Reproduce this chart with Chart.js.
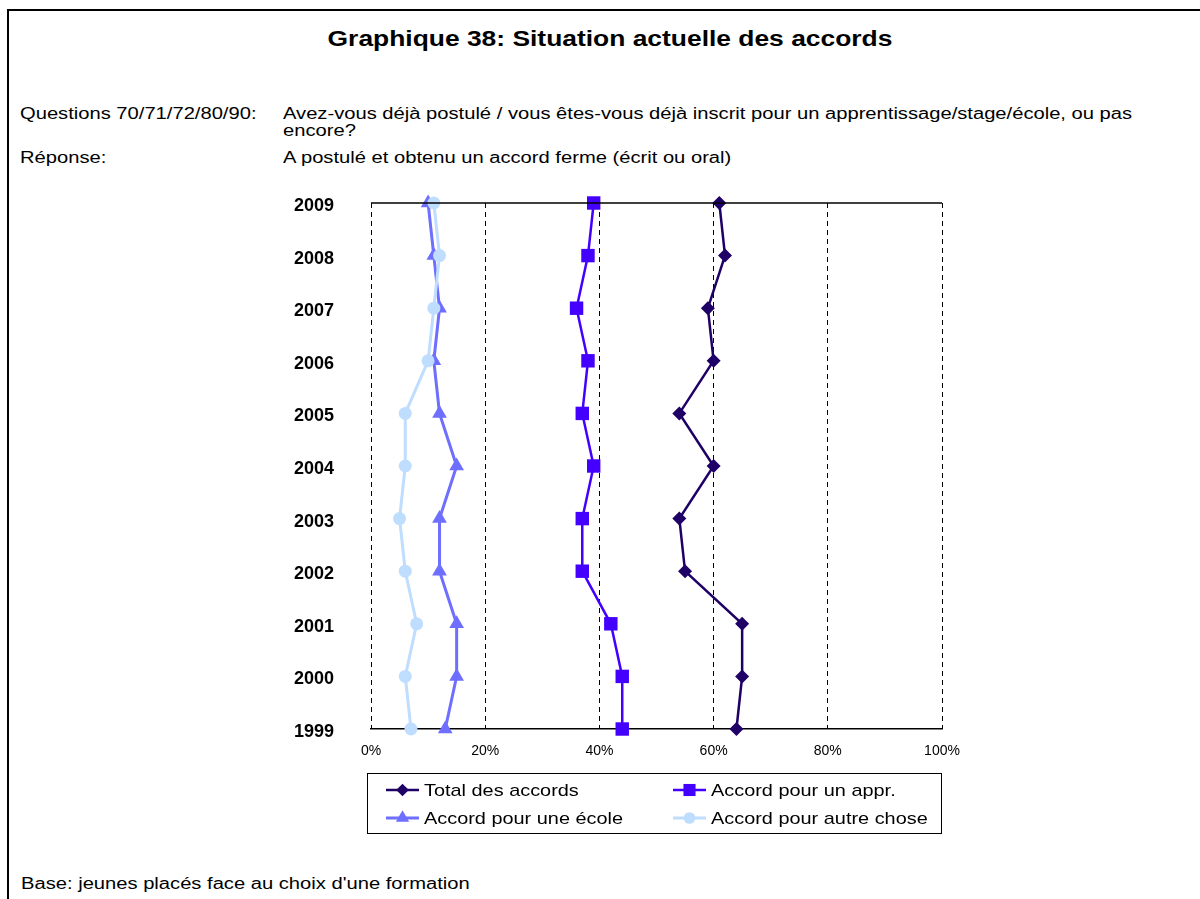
<!DOCTYPE html>
<html lang="fr">
<head>
<meta charset="utf-8">
<title>Graphique 38</title>
<script src="https://cdn.jsdelivr.net/npm/chart.js@4/dist/chart.umd.min.js"></script>
<style>
    html, body { margin: 0; padding: 0; background: #fff; }
    body { width: 1200px; height: 899px; position: relative; overflow: hidden; font-family: Arial, "Liberation Sans", sans-serif; color: #000; }
    #frame { position: absolute; left: 7px; top: 9px; width: 1300px; height: 1000px; border-left: 2px solid #000; border-top: 2px solid #000; }
    #title { position: absolute; left: 0; width: 1220px; top: 26px; text-align: center; font-weight: bold; font-size: 22px; transform: scaleX(1.2); transform-origin: 610px 0; }
    .txt { position: absolute; font-size: 16px; line-height: 17px; transform: scaleX(1.26); transform-origin: 0 0; white-space: nowrap; }
    .wrap { white-space: normal; }
    #chartCanvas { position: absolute; left: 0; top: 0; }
</style>
</head>
<body>
<div id="frame"></div>
<div id="title">Graphique 38: Situation actuelle des accords</div>
<div class="txt" style="left:20px; top:105px;">Questions 70/71/72/80/90:</div>
<div class="txt wrap" style="left:283px; top:105px; width:700px;">Avez-vous déjà postulé / vous êtes-vous déjà inscrit pour un apprentissage/stage/école, ou pas encore?</div>
<div class="txt" style="left:20px; top:149px;">Réponse:</div>
<div class="txt" style="left:283px; top:149px;">A postulé et obtenu un accord ferme (écrit ou oral)</div>
<div class="txt" style="left:21px; top:875px;">Base: jeunes placés face au choix d'une formation</div>
<canvas id="chartCanvas" width="1200" height="899"></canvas>

<script>
// Data (years from top to bottom, values in %)
const years = ['2009', '2008', '2007', '2006', '2005', '2004', '2003', '2002', '2001', '2000', '1999'];
const totalAccords = [61, 62, 59, 60, 54, 60, 54, 55, 65, 65, 64];
const accordAppr = [39, 38, 36, 38, 37, 39, 37, 37, 42, 44, 44];
const accordEcole = [10, 11, 12, 11, 12, 15, 12, 12, 15, 15, 13];
const accordAutre = [11, 12, 11, 10, 6, 6, 5, 6, 8, 6, 7];
const xTicks = [0, 20, 40, 60, 80, 100];

const seriesLabels = ['Total des accords', 'Accord pour un appr.', 'Accord pour une école', 'Accord pour autre chose'];
const seriesColors = ['#1F0066', '#4400FF', '#6F6FFF', '#BFDDFF'];
const seriesMarkers = ['rectRot', 'rect', 'triangle', 'circle'];
const markerRadius = [7, 9.5, 8.5, 6.5];
const lineWidths = [2.5, 2.5, 3, 3];

// Draws a marker the same way for the legend
function drawMarker(ctx, style, x, y, r, color) {
    ctx.save();
    ctx.fillStyle = color;
    ctx.beginPath();
    if (style === 'rectRot') {
        ctx.moveTo(x, y - r);
        ctx.lineTo(x + r, y);
        ctx.lineTo(x, y + r);
        ctx.lineTo(x - r, y);
    } else if (style === 'rect') {
        const s = r * Math.SQRT1_2;
        ctx.rect(x - s, y - s, 2 * s, 2 * s);
    } else if (style === 'triangle') {
        for (let i = 0; i < 3; i++) {
            const a = i * 2 * Math.PI / 3;
            const px = x + Math.sin(a) * r;
            const py = y - Math.cos(a) * r;
            if (i === 0) ctx.moveTo(px, py); else ctx.lineTo(px, py);
        }
    } else {
        ctx.arc(x, y, r, 0, Math.PI * 2);
    }
    ctx.closePath();
    ctx.fill();
    ctx.restore();
}

// Top border of the plot area + boxed legend under the chart
const framePlugin = {
    id: 'framePlugin',
    afterDraw(chart) {
        const ctx = chart.ctx;
        const area = chart.chartArea;
        ctx.save();
        ctx.strokeStyle = '#000';
        ctx.lineWidth = 1.5;
        ctx.beginPath();
        ctx.moveTo(area.left, area.top);
        ctx.lineTo(area.right, area.top);
        ctx.stroke();

        // legend box, same width as the plot area
        const box = { x: area.left - 3.5, y: 773.5, w: area.right - area.left + 3, h: 60 };
        ctx.lineWidth = 1;
        ctx.strokeStyle = '#000';
        ctx.strokeRect(box.x, box.y, box.w, box.h);

        const cols = [386, 673];
        const rows = [790, 818];
        ctx.font = '17px Arial, "Liberation Sans", sans-serif';
        ctx.textBaseline = 'middle';
        ctx.textAlign = 'left';
        seriesLabels.forEach((label, i) => {
            const lx = cols[i % 2];
            const ly = rows[Math.floor(i / 2)];
            ctx.strokeStyle = seriesColors[i];
            ctx.lineWidth = lineWidths[i];
            ctx.beginPath();
            ctx.moveTo(lx, ly);
            ctx.lineTo(lx + 33, ly);
            ctx.stroke();
            drawMarker(ctx, seriesMarkers[i], lx + 16.5, ly, markerRadius[i] * 0.9, seriesColors[i]);
            ctx.save();
            ctx.translate(lx + 38, ly + 1);
            ctx.scale(1.17, 1);
            ctx.fillStyle = '#000';
            ctx.fillText(label, 0, 0);
            ctx.restore();
        });
        ctx.restore();
    }
};

function makeDataset(i, values) {
    return {
        label: seriesLabels[i],
        data: values,
        borderColor: seriesColors[i],
        backgroundColor: seriesColors[i],
        pointBackgroundColor: seriesColors[i],
        pointBorderColor: seriesColors[i],
        pointBorderWidth: 0,
        pointStyle: seriesMarkers[i],
        pointRadius: markerRadius[i],
        borderWidth: lineWidths[i],
        tension: 0,
        fill: false,
        clip: false,
        order: 3 - i
    };
}

const ctx = document.getElementById('chartCanvas');
const chart = new Chart(ctx, {
    type: 'line',
    data: {
        labels: years,
        datasets: [
            makeDataset(0, totalAccords),
            makeDataset(1, accordAppr),
            makeDataset(2, accordEcole),
            makeDataset(3, accordAutre)
        ]
    },
    options: {
        indexAxis: 'y',
        responsive: false,
        animation: false,
        layout: {
            padding: { left: 281, right: 258, top: 203, bottom: 140 }
        },
        scales: {
            x: {
                type: 'linear',
                position: 'bottom',
                min: 0,
                max: 100,
                afterBuildTicks: function(scale) {
                    scale.ticks = xTicks.map(v => ({ value: v }));
                },
                afterFit: function(scale) { scale.height = 30; },
                ticks: {
                    color: '#000',
                    padding: 14,
                    font: { family: 'Arial, "Liberation Sans", sans-serif', size: 14 },
                    callback: function(value) { return value + '%'; }
                },
                grid: {
                    color: '#000',
                    lineWidth: 1,
                    drawTicks: false,
                    tickLength: 0
                },
                // in v4 the border dash is also used for the grid lines
                border: {
                    display: true,
                    color: '#000',
                    width: 1.5,
                    dash: [5, 4]
                }
            },
            y: {
                type: 'category',
                offset: false,
                afterFit: function(scale) { scale.width = 90; },
                ticks: {
                    color: '#000',
                    padding: 37,
                    labelOffset: 3,
                    font: { family: 'Arial, "Liberation Sans", sans-serif', size: 18, weight: 'bold' }
                },
                grid: { display: false, drawTicks: false },
                border: { display: false }
            }
        },
        plugins: {
            legend: { display: false },
            title: { display: false },
            tooltip: { enabled: false }
        }
    },
    plugins: [framePlugin]
});
</script>
</body>
</html>
